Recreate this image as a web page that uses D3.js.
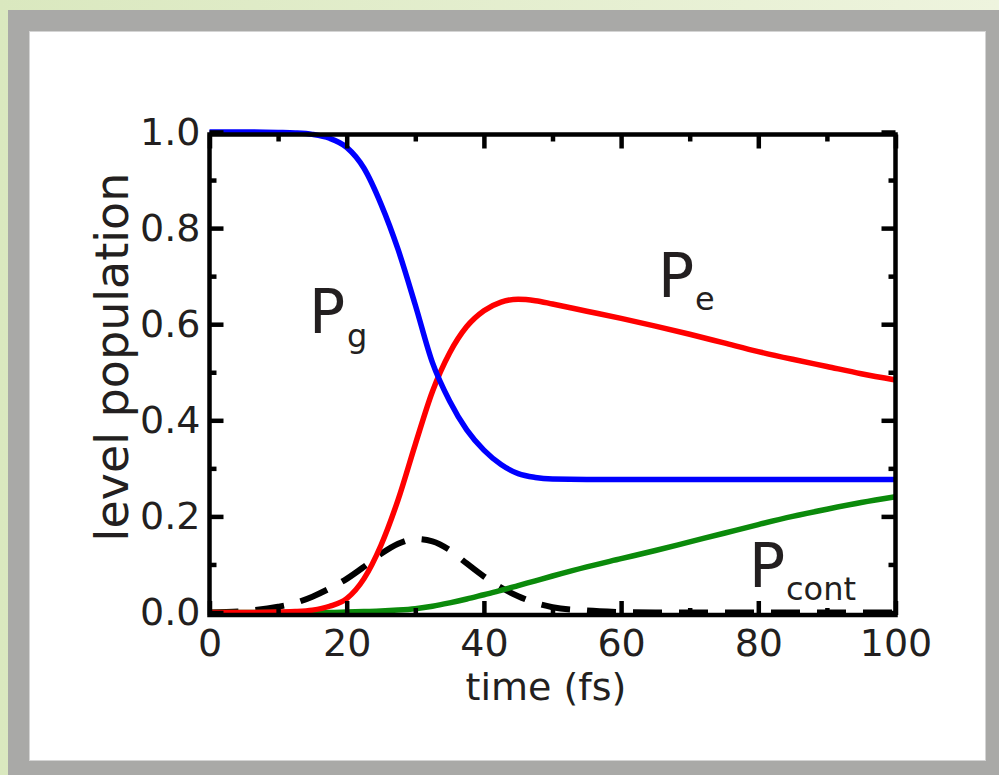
<!DOCTYPE html>
<html>
<head>
<meta charset="utf-8">
<script src="https://cdn.jsdelivr.net/npm/d3@7"></script>
<style>
  html, body { margin: 0; padding: 0; overflow: hidden; background: #fff; }
  svg text { font-family: "DejaVu Sans", sans-serif; fill: #231f20; }
</style>
</head>
<body>
<svg id="chart" width="999" height="775"></svg>
<script>
// Time grid (fs)
const time = [0, 5, 10, 12.5, 15, 17.5, 20, 22.5, 25, 27.5, 30, 32.5, 35, 37.5, 40, 42.5, 45, 47.5, 50,
              55, 60, 65, 70, 75, 80, 85, 90, 95, 100];

// Ground-state population P_g
const groundPop = [1.0, 1.0, 0.999, 0.998, 0.995, 0.987, 0.968, 0.925, 0.85, 0.755, 0.64, 0.52, 0.44, 0.38,
                   0.338, 0.308, 0.289, 0.281, 0.278, 0.277, 0.277, 0.277, 0.277, 0.277, 0.277, 0.277,
                   0.277, 0.277, 0.277];

// Excited-state population P_e
const excitedPop = [0, 0, 0.001, 0.002, 0.005, 0.013, 0.029, 0.07, 0.14, 0.235, 0.35, 0.46, 0.54, 0.595,
                    0.628, 0.646, 0.652, 0.649, 0.642, 0.627, 0.612, 0.596, 0.579, 0.561, 0.543, 0.527,
                    0.512, 0.497, 0.484];

// Continuum population P_cont
const continuumPop = [0, 0, 0, 0, 0, 0, 0.001, 0.002, 0.003, 0.005, 0.008, 0.013, 0.02, 0.028, 0.037,
                      0.046, 0.056, 0.066, 0.076, 0.095, 0.112, 0.129, 0.147, 0.165, 0.183, 0.2, 0.215,
                      0.229, 0.241];

// Pulse envelope (dashed)
const pulseEnvelope = [0, 0.003, 0.012, 0.02, 0.033, 0.05, 0.07, 0.095, 0.122, 0.143, 0.153, 0.148, 0.13,
                       0.102, 0.075, 0.052, 0.034, 0.02, 0.011, 0.004, 0.001, 0, 0, 0, 0, 0, 0, 0, 0];

const xMajorTicks = [0, 20, 40, 60, 80, 100];
const xMinorTicks = [10, 30, 50, 70, 90];
const yMajorTicks = [0, 0.2, 0.4, 0.6, 0.8, 1.0];
const yMinorTicks = [0.1, 0.3, 0.5, 0.7, 0.9];

const xTitle = "time (fs)";
const yTitle = "level population";

const svg = d3.select("#chart");

// Page background, grey frame and white panel
const defs = svg.append("defs");
const grad = defs.append("linearGradient").attr("id", "bgGrad")
  .attr("x1", "0%").attr("y1", "0%").attr("x2", "100%").attr("y2", "0%");
grad.append("stop").attr("offset", "0%").attr("stop-color", "#dae8bf");
grad.append("stop").attr("offset", "100%").attr("stop-color", "#eef4de");
svg.append("rect").attr("width", 999).attr("height", 775).attr("fill", "url(#bgGrad)");
svg.append("rect").attr("x", 8).attr("y", 10).attr("width", 991).attr("height", 765).attr("fill", "#a9a9a7");
svg.append("rect").attr("x", 29.5).attr("y", 31.5).attr("width", 956).attr("height", 729)
  .attr("fill", "#ffffff").attr("stroke", "#d4d4d4").attr("stroke-width", 1);

// Plot geometry
const box = { left: 209.5, right: 895.5, top: 134.5, bottom: 615 };
const x = d3.scaleLinear().domain([0, 100]).range([box.left, box.right]);
const y = d3.scaleLinear().domain([0, 1]).range([612.5, 132]);

const rows = time.map((t, i) => ({
  t, pg: groundPop[i], pe: excitedPop[i], pc: continuumPop[i], pulse: pulseEnvelope[i]
}));

const curves = [
  { key: "pulse", color: "#000000", dash: "29,17", width: 6 },
  { key: "pc", color: "#0b8a0b", dash: null, width: 5.5 },
  { key: "pe", color: "#ff0000", dash: null, width: 5.5 },
  { key: "pg", color: "#0000ff", dash: null, width: 5.5 }
];

const plot = svg.append("g");
curves.forEach(c => {
  const line = d3.line()
    .x(d => x(d.t))
    .y(d => y(d[c.key]))
    .curve(d3.curveMonotoneX);
  plot.append("path")
    .datum(rows)
    .attr("d", line)
    .attr("fill", "none")
    .attr("stroke", c.color)
    .attr("stroke-width", c.width)
    .attr("stroke-dasharray", c.dash)
    .attr("stroke-linejoin", "round");
});

// Axes: inward ticks on all four sides
const tickW = 4.5;
function styleAxis(g) {
  g.select(".domain").remove();
  g.selectAll(".tick line").attr("stroke", "#000").attr("stroke-width", tickW);
}
function styleLabels(g) {
  g.selectAll(".tick text").attr("font-size", 38).attr("font-family", null).attr("fill", null);
}

const fmtY = d3.format(".1f");
svg.append("g").attr("transform", `translate(${box.left},0)`)
  .call(d3.axisLeft(y).tickValues(yMajorTicks).tickSize(-14).tickPadding(9).tickFormat(fmtY))
  .call(styleAxis).call(styleLabels);
svg.append("g").attr("transform", `translate(${box.left},0)`)
  .call(d3.axisLeft(y).tickValues(yMinorTicks).tickSize(-7).tickFormat(""))
  .call(styleAxis);
svg.append("g").attr("transform", `translate(${box.right},0)`)
  .call(d3.axisRight(y).tickValues(yMajorTicks).tickSize(-14).tickFormat(""))
  .call(styleAxis);
svg.append("g").attr("transform", `translate(${box.right},0)`)
  .call(d3.axisRight(y).tickValues(yMinorTicks).tickSize(-7).tickFormat(""))
  .call(styleAxis);

svg.append("g").attr("transform", `translate(0,${box.bottom})`)
  .call(d3.axisBottom(x).tickValues(xMajorTicks).tickSize(-14).tickPadding(14).tickFormat(d3.format("d")))
  .call(styleAxis).call(styleLabels);
svg.append("g").attr("transform", `translate(0,${box.bottom})`)
  .call(d3.axisBottom(x).tickValues(xMinorTicks).tickSize(-7).tickFormat(""))
  .call(styleAxis);
svg.append("g").attr("transform", `translate(0,${box.top})`)
  .call(d3.axisTop(x).tickValues(xMajorTicks).tickSize(-14).tickFormat(""))
  .call(styleAxis);
svg.append("g").attr("transform", `translate(0,${box.top})`)
  .call(d3.axisTop(x).tickValues(xMinorTicks).tickSize(-7).tickFormat(""))
  .call(styleAxis);

// Frame
svg.append("rect")
  .attr("x", box.left).attr("y", box.top)
  .attr("width", box.right - box.left).attr("height", box.bottom - box.top)
  .attr("fill", "none").attr("stroke", "#000").attr("stroke-width", tickW);

// Axis titles
svg.append("text")
  .attr("x", 546).attr("y", 700)
  .attr("text-anchor", "middle").attr("font-size", 38)
  .text(xTitle);
svg.append("text")
  .attr("transform", "translate(128,357) rotate(-90)")
  .attr("text-anchor", "middle").attr("font-size", 46)
  .text(yTitle);

// Curve labels with subscripts
function curveLabel(px, py, main, sub, sx, sy) {
  const g = svg.append("g");
  g.append("text").attr("x", px).attr("y", py).attr("font-size", 60).text(main);
  g.append("text").attr("x", sx).attr("y", sy).attr("font-size", 32).text(sub);
}
curveLabel(309, 333, "P", "g", 347, 347);
curveLabel(658, 297, "P", "e", 695, 310);
curveLabel(749, 587, "P", "cont", 786, 600);
</script>
</body>
</html>
